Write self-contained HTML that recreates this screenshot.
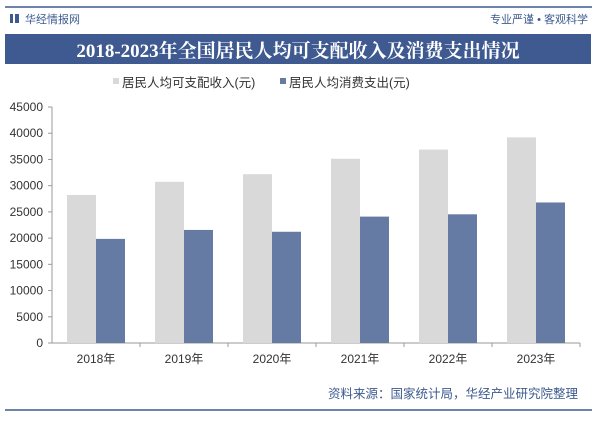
<!DOCTYPE html>
<html><head><meta charset="utf-8"><style>
body{margin:0;width:600px;height:419px;background:#fff;overflow:hidden;font-family:"Liberation Sans","Noto Sans CJK SC",sans-serif;}
</style></head><body>
<svg width="600" height="419" xmlns="http://www.w3.org/2000/svg">
<line x1="5" y1="7" x2="592" y2="7" stroke="#3d5a8f" stroke-width="1.5"/>
<rect x="10" y="14" width="3" height="9" fill="#3d5a8f"/>
<rect x="15" y="14" width="4" height="9" fill="#3d5a8f"/>
<text x="25" y="23" font-size="11" fill="#3d5a8f">华经情报网</text>
<text x="588" y="23" font-size="11" fill="#3d5a8f" text-anchor="end">专业严谨 • 客观科学</text>
<rect x="5" y="34" width="586" height="30" fill="#3e5a90"/>
<text x="298" y="57" font-size="19" font-weight="bold" fill="#fff" text-anchor="middle" font-family="'Liberation Serif','Noto Serif CJK SC',serif">2018-2023年全国居民人均可支配收入及消费支出情况</text>
<g>
<rect x="113" y="78" width="6" height="6" fill="#d9d9d9"/>
<text x="122" y="87" font-size="12.5" fill="#333">居民人均可支配收入(元)</text>
<rect x="280" y="78" width="6" height="6" fill="#657ba4"/>
<text x="289" y="87" font-size="12.5" fill="#333">居民人均消费支出(元)</text>
</g>
<g id="plot"></g>
<text x="578" y="398" font-size="12.5" fill="#3d5a8f" text-anchor="end">资料来源：国家统计局，华经产业研究院整理</text>
<line x1="5" y1="410" x2="592" y2="410" stroke="#3d5a8f" stroke-width="1.5"/>
</svg>
<script>
const categories=["2018年","2019年","2020年","2021年","2022年","2023年"];
const income=[28228,30733,32189,35128,36883,39218];
const consumption=[19853,21559,21210,24100,24538,26796];
const yTicks=[0,5000,10000,15000,20000,25000,30000,35000,40000,45000];
const NS="http://www.w3.org/2000/svg";
const g=document.getElementById('plot');
const x0=52,x1=580,y0=343,y1=107,yMax=45000;
const bw=(x1-x0)/categories.length;
const y=v=>y0-(v/yMax)*(y0-y1);
function mk(t,a){const e=document.createElementNS(NS,t);for(const k in a)e.setAttribute(k,a[k]);g.appendChild(e);return e;}
let ax=mk('line',{x1:x0,y1:y1,x2:x0,y2:y0,stroke:'#999'});


let bx=mk('line',{x1:x0,y1:y0,x2:x1,y2:y0,stroke:'#999'});


yTicks.forEach(v=>{
 mk('line',{x1:x0-4,y1:y(v),x2:x0,y2:y(v),stroke:'#999'});
 const t=mk('text',{x:x0-9,y:y(v)+4,'font-size':12,fill:'#333','text-anchor':'end'});
 t.textContent=v;
 
 
});
categories.forEach((c,i)=>{
 const cx=x0+bw*(i+0.5);
 mk('line',{x1:x0+bw*(i+1),y1:y0,x2:x0+bw*(i+1),y2:y0+4,stroke:'#999'});
 const r1=mk('rect',{x:cx-29,y:y(income[i]),width:29,height:y0-y(income[i]),fill:'#d9d9d9'});
 
 
 const r2=mk('rect',{x:cx,y:y(consumption[i]),width:29,height:y0-y(consumption[i]),fill:'#657ba4'});
 
 
 const t=mk('text',{x:cx,y:363,'font-size':12,fill:'#333','text-anchor':'middle'});
 t.textContent=c;
 
 
});
</script>
</body></html>
